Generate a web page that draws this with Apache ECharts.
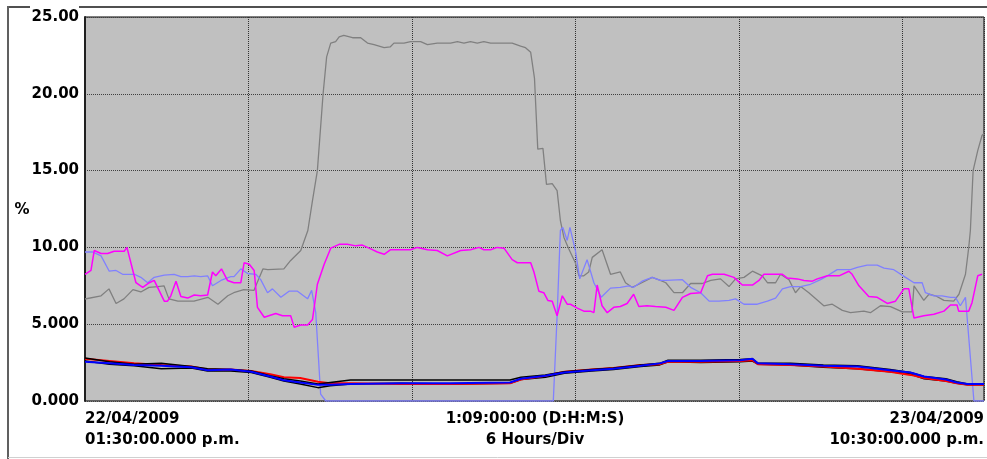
<!DOCTYPE html>
<html>
<head>
<meta charset="utf-8">
<script src="https://cdn.jsdelivr.net/npm/echarts@6/dist/echarts.min.js"></script>
<style>
html,body{margin:0;padding:0;background:#fff;}
#c{width:987px;height:459px;}
</style>
</head>
<body>
<div id="c"></div>
<script>
// Hours since 22/04/2009 01:30 p.m., value in %
const grayTrace = [
[0,6.64],[0.59,6.85],[0.88,7.3],[1.14,6.35],[1.43,6.65],[1.76,7.25],[2.05,7.1],[2.35,7.4],[2.68,7.45],[2.9,7.5],
[3.08,6.65],[3.41,6.5],[4.0,6.5],[4.51,6.75],[4.88,6.3],[5.24,6.85],[5.46,7.05],[5.83,7.25],[6.2,7.2],[6.53,8.6],
[6.71,8.55],[7.3,8.6],[7.55,9.15],[7.92,9.8],[8.18,11.1],[8.35,13.05],[8.53,15.0],[8.74,20.0],[8.87,22.4],[9.02,23.3],
[9.2,23.4],[9.33,23.7],[9.5,23.8],[9.82,23.65],[10.12,23.65],[10.37,23.3],[10.61,23.2],[10.98,23.0],[11.2,23.05],[11.34,23.3],
[11.71,23.3],[11.95,23.4],[12.32,23.4],[12.57,23.2],[12.93,23.3],[13.42,23.3],[13.67,23.4],[13.91,23.3],[14.15,23.4],[14.4,23.3],
[14.64,23.4],[14.89,23.3],[15.68,23.3],[15.99,23.1],[16.17,23.0],[16.36,22.7],[16.5,21.0],[16.62,16.4],[16.81,16.45],[16.94,14.1],
[17.15,14.15],[17.33,13.7],[17.45,11.75],[17.58,10.65],[17.76,9.9],[18.0,9.0],[18.13,8.15],[18.31,8.15],[18.49,8.4],[18.62,9.35],
[18.98,9.85],[19.29,8.25],[19.65,8.4],[19.84,7.7],[20.08,7.4],[20.33,7.6],[20.82,8.05],[21.12,7.85],[21.32,7.7],[21.62,7.05],
[21.93,7.05],[22.23,7.65],[22.66,7.65],[22.97,7.85],[23.33,7.95],[23.64,7.45],[23.88,7.95],[24.19,8.05],[24.5,8.45],[24.86,8.15],
[25.05,7.7],[25.35,7.7],[25.53,8.25],[25.84,7.9],[26.08,7.05],[26.27,7.45],[26.57,7.05],[27.12,6.2],[27.43,6.3],[27.8,5.9],
[28.1,5.75],[28.59,5.85],[28.83,5.75],[29.2,6.2],[29.57,6.15],[30.0,5.8],[30.36,5.8],[30.43,7.5],[30.79,6.55],[30.98,6.95],
[31.22,6.85],[31.53,6.55],[31.89,6.5],[32.08,6.95],[32.32,8.25],[32.44,10.0],[32.5,11.1],[32.6,15.0],[32.77,16.3],[32.93,17.3],[33.0,17.4]
];
const lightBlueTrace = [
[0,9.7],[0.28,9.7],[0.59,9.45],[0.89,8.45],[1.14,8.5],[1.38,8.25],[1.81,8.25],[2.05,8.05],[2.3,7.7],[2.54,8.05],
[2.91,8.2],[3.27,8.25],[3.52,8.1],[3.77,8.1],[4.01,8.15],[4.25,8.1],[4.5,8.15],[4.68,7.5],[4.99,7.85],[5.35,8.1],
[5.47,8.1],[5.72,8.6],[5.97,8.3],[6.27,8.25],[6.45,7.9],[6.7,7.05],[6.88,7.3],[7.19,6.75],[7.49,7.15],[7.8,7.15],
[8.17,6.65],[8.32,7.2],[8.47,5.75],[8.65,0.45],[8.84,0],[17.19,0],[17.33,5.55],[17.45,11.1],[17.54,11.3],[17.7,10.45],
[17.8,11.3],[18.0,9.8],[18.16,7.95],[18.43,9.2],[18.68,7.7],[18.95,6.75],[19.29,7.35],[19.65,7.4],[19.96,7.5],[20.14,7.4],
[20.45,7.8],[20.82,8.05],[21.12,7.85],[21.32,7.85],[21.93,7.9],[22.23,7.4],[22.6,7.05],[22.91,6.5],[23.27,6.5],[23.64,6.55],
[23.88,6.65],[24.19,6.3],[24.68,6.3],[25.05,6.5],[25.35,6.7],[25.6,7.3],[25.9,7.45],[26.27,7.45],[26.63,7.6],[27.0,7.9],
[27.25,8.15],[27.61,8.55],[28.1,8.55],[28.35,8.7],[28.71,8.85],[29.08,8.85],[29.33,8.65],[29.69,8.55],[30.12,8.05],[30.43,7.7],
[30.73,7.7],[30.85,7.05],[31.16,6.85],[31.46,6.85],[31.77,6.75],[31.95,6.75],[32.13,6.2],[32.32,6.75],[32.63,0],[33.0,0]
];
const magentaTrace = [
[0,8.25],[0.22,8.5],[0.34,9.8],[0.59,9.6],[0.83,9.6],[1.07,9.75],[1.44,9.75],[1.54,10.0],[1.87,7.7],[2.12,7.4],
[2.36,7.7],[2.54,7.85],[2.91,6.5],[3.03,6.5],[3.15,6.85],[3.34,7.8],[3.52,6.8],[3.77,6.7],[4.01,6.9],[4.25,6.85],
[4.5,6.9],[4.68,8.4],[4.8,8.15],[5.01,8.6],[5.23,7.85],[5.47,7.7],[5.72,7.7],[5.84,9.0],[6.03,8.9],[6.21,8.5],
[6.33,6.1],[6.58,5.45],[7.0,5.7],[7.25,5.55],[7.55,5.55],[7.68,4.8],[7.92,4.95],[8.17,4.95],[8.35,5.3],[8.53,7.6],
[8.78,8.9],[9.02,9.95],[9.33,10.2],[9.63,10.2],[9.94,10.1],[10.18,10.15],[10.49,9.9],[10.73,9.7],[10.98,9.55],[11.22,9.85],
[11.95,9.85],[12.2,10.0],[12.57,9.85],[12.93,9.8],[13.3,9.45],[13.79,9.8],[14.15,9.85],[14.46,10.0],[14.64,9.85],[14.89,9.85],
[15.13,10.0],[15.38,9.95],[15.68,9.2],[15.87,9.0],[16.36,9.0],[16.48,8.4],[16.66,7.15],[16.84,7.05],[16.99,6.55],[17.15,6.5],
[17.33,5.55],[17.52,6.85],[17.7,6.3],[17.82,6.3],[18.07,6.05],[18.31,5.85],[18.55,5.85],[18.68,5.75],[18.8,7.55],[18.98,6.2],
[19.17,5.75],[19.41,6.1],[19.65,6.15],[19.9,6.35],[20.14,6.95],[20.33,6.15],[20.63,6.2],[20.94,6.15],[21.32,6.1],[21.62,5.9],
[21.93,6.75],[22.23,7.0],[22.6,7.05],[22.85,8.15],[23.03,8.25],[23.46,8.25],[23.82,8.05],[24.13,7.55],[24.5,7.55],[24.74,7.85],
[24.92,8.25],[25.6,8.25],[25.78,8.0],[26.15,7.95],[26.39,7.85],[26.7,7.8],[26.88,7.95],[27.25,8.15],[27.68,8.15],[28.04,8.45],
[28.16,8.25],[28.41,7.5],[28.77,6.8],[29.08,6.75],[29.45,6.35],[29.75,6.5],[30.06,7.3],[30.24,7.3],[30.43,5.4],[30.79,5.55],
[31.16,5.65],[31.53,5.85],[31.77,6.25],[32.01,6.25],[32.07,5.85],[32.44,5.85],[32.56,6.4],[32.77,8.15],[32.93,8.25]
];
const bundleHours = [0,0.9,1.8,2.8,3.9,4.5,5.35,6.1,6.8,7.3,7.9,8.55,9.0,9.75,11.6,13.4,15.6,16.0,16.9,17.6,18.6,19.4,20.4,21.1,21.4,22.6,24.05,24.5,24.7,25.9,27.1,28.35,29.55,30.3,30.8,31.6,32.0,32.4,33.0];
const redValues     = [2.75,2.6,2.45,2.35,2.25,2.05,2.05,1.95,1.75,1.55,1.5,1.25,1.15,1.15,1.1,1.1,1.15,1.4,1.65,1.9,2.05,2.15,2.35,2.4,2.55,2.55,2.6,2.65,2.4,2.35,2.25,2.1,1.9,1.7,1.5,1.3,1.15,1.05,1.05];
const blueValues    = [2.55,2.45,2.35,2.3,2.2,2.0,2.05,1.9,1.6,1.35,1.2,1.05,1.05,1.1,1.15,1.15,1.2,1.45,1.65,1.85,2.0,2.1,2.3,2.45,2.6,2.6,2.65,2.75,2.45,2.4,2.3,2.25,2.0,1.85,1.6,1.4,1.2,1.1,1.1];
const blackHiValues = [2.8,2.55,2.4,2.45,2.25,2.1,2.05,1.95,1.65,1.45,1.3,1.1,1.2,1.37,1.37,1.37,1.37,1.55,1.7,1.9,2.05,2.15,2.35,2.45,2.65,2.65,2.7,2.75,2.45,2.45,2.35,2.3,2.05,1.85,1.6,1.45,1.25,1.1,1.1];
const blackLoValues = [2.6,2.4,2.3,2.1,2.15,1.95,1.95,1.85,1.55,1.3,1.1,0.87,1.0,1.1,1.15,1.1,1.15,1.4,1.55,1.8,1.95,2.05,2.25,2.35,2.55,2.5,2.55,2.6,2.4,2.35,2.2,2.1,1.9,1.75,1.45,1.3,1.15,1.05,1.05];
const yTickLabels = ['0.000','5.000','10.00','15.00','20.00','25.00'];
const startLabel = '22/04/2009\n01:30:00.000 p.m.';
const midLabel = '1:09:00:00 (D:H:M:S)\n6 Hours/Div';
const endLabel = '23/04/2009\n10:30:00.000 p.m.';
const yName = '%';

const FONT = '"DejaVu Sans", sans-serif';
const pair = vals => bundleHours.map((h, i) => [h, vals[i]]);
const lineSeries = (data, color, width) => ({
  type: 'line', data, showSymbol: false, symbol: 'none', animation: false,
  lineStyle: { color, width }, itemStyle: { color }
});

const chart = echarts.init(document.getElementById('c'), null, { renderer: 'canvas' });
chart.setOption({
  animation: false,
  backgroundColor: '#fff',
  grid: { left: 85, top: 17, right: 3, bottom: 58, show: true, backgroundColor: '#c0c0c0', borderColor: '#000', borderWidth: 1 },
  xAxis: {
    type: 'value', min: 0, max: 33, interval: 6,
    axisLine: { show: false }, axisTick: { show: false }, axisLabel: { show: false },
    splitLine: { show: true, lineStyle: { color: '#303030', type: [1, 1], width: 1 } }
  },
  yAxis: {
    type: 'value', min: 0, max: 25, interval: 5,
    axisLine: { show: true, lineStyle: { color: '#202020', width: 2 } },
    axisTick: { show: false },
    axisLabel: {
      margin: 6, color: '#000', fontFamily: FONT, fontWeight: 'bold', fontSize: 15,
      formatter: (v) => yTickLabels[Math.round(v / 5)]
    },
    splitLine: { show: true, lineStyle: { color: '#404040', type: [1, 1], width: 1 } }
  },
  series: [
    lineSeries(grayTrace, '#808080', 1.3),
    lineSeries(lightBlueTrace, '#8080ff', 1.3),
    lineSeries(magentaTrace, '#ff00ff', 1.5),
    lineSeries(pair(blackLoValues), '#000000', 1.5),
    lineSeries(pair(redValues), '#ff0000', 2),
    lineSeries(pair(blackHiValues), '#000000', 1.5),
    lineSeries(pair(blueValues), '#0000ff', 2)
  ],
  graphic: [
    { type: 'line', shape: { x1: 8, y1: 7, x2: 30, y2: 7 }, style: { stroke: '#505050', lineWidth: 2 }, z: 0 },
    { type: 'line', shape: { x1: 79, y1: 7, x2: 987, y2: 7 }, style: { stroke: '#505050', lineWidth: 2 }, z: 0 },
    { type: 'line', shape: { x1: 8, y1: 6, x2: 8, y2: 459 }, style: { stroke: '#606060', lineWidth: 2 }, z: 0 },
    { type: 'line', shape: { x1: 8, y1: 457.5, x2: 987, y2: 457.5 }, style: { stroke: '#d0d0d0', lineWidth: 1 }, z: 0 },
    { type: 'text', x: 22, y: 210, style: { text: yName, font: 'bold 15px ' + FONT, fill: '#000', textAlign: 'center', textVerticalAlign: 'middle' } },
    { type: 'text', x: 85, y: 409, style: { text: startLabel, font: 'bold 15px ' + FONT, fill: '#000', textAlign: 'left', textVerticalAlign: 'top', lineHeight: 21 } },
    { type: 'text', x: 535, y: 409, style: { text: midLabel, font: 'bold 15px ' + FONT, fill: '#000', textAlign: 'center', textVerticalAlign: 'top', lineHeight: 21 } },
    { type: 'text', x: 984, y: 409, style: { text: endLabel, font: 'bold 15px ' + FONT, fill: '#000', textAlign: 'right', textVerticalAlign: 'top', lineHeight: 21 } }
  ]
});
</script>
</body>
</html>
